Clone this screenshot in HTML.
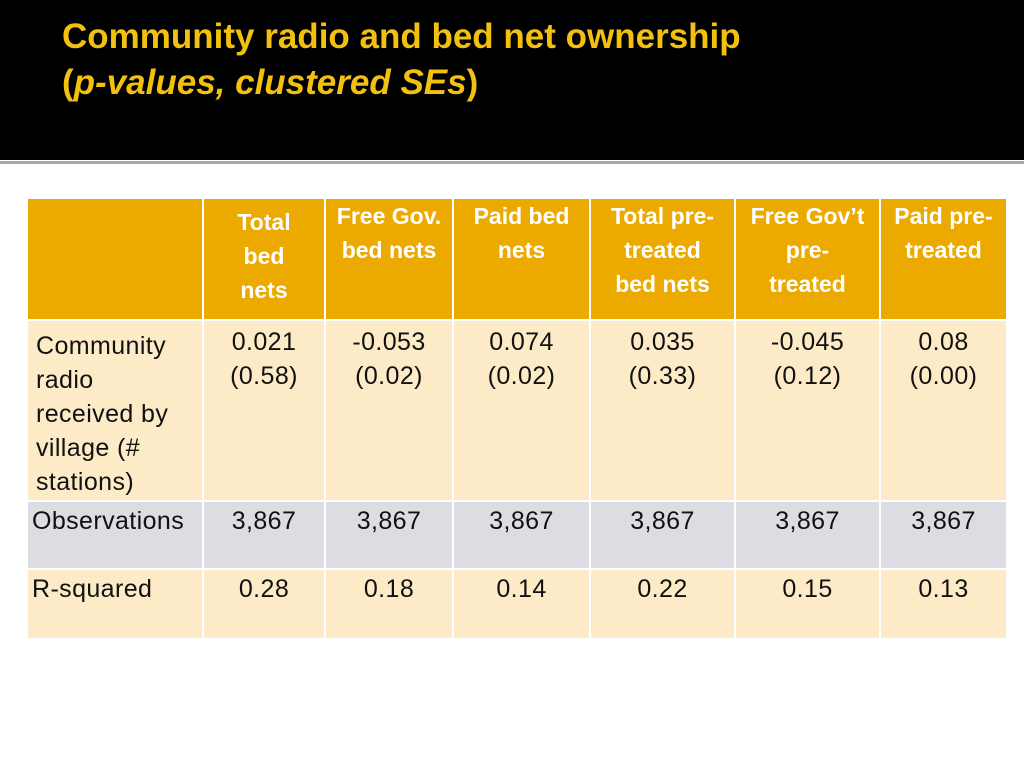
<!DOCTYPE html>
<html><head><meta charset="utf-8"><style>
body{margin:0;width:1024px;height:768px;background:#fff;position:relative;overflow:hidden;font-family:"Liberation Sans",sans-serif}
#hdr{position:absolute;left:0;top:0;width:1024px;height:160px;background:#000}
#line{position:absolute;left:0;top:161px;width:1024px;height:3px;background:#a8a8a8}
#title{position:absolute;left:62px;top:14px;color:#f2c10f;font-weight:bold;font-size:35px;line-height:46px;margin:0;white-space:nowrap}
table{position:absolute;left:26px;top:197px;border-collapse:collapse;table-layout:fixed}
td{border:2px solid #fff;padding:0;vertical-align:top;text-align:center;font-size:25px;color:#111;line-height:34px;letter-spacing:0.4px;white-space:nowrap}
tr.h td{background:#ecaa00;color:#fff;font-weight:bold;font-size:23px;height:114px;letter-spacing:0}
tr.r1 td{background:#fdebc8;height:171px;padding-top:4px}
tr.o td{background:#dcdde2;height:64px;padding-top:2px}
tr.r2 td{background:#fdebc8;height:66px;padding-top:2px}
td.lab{text-align:left;padding-left:8px}
</style></head><body>
<div id="hdr"></div>
<div id="line"></div>
<h1 id="title">Community radio and bed net ownership<br>(<i>p-values, clustered SEs</i>)</h1>
<table>
<colgroup><col style="width:176px"><col style="width:122px"><col style="width:128px"><col style="width:137px"><col style="width:145px"><col style="width:145px"><col style="width:127px"></colgroup>
<tr class="h"><td></td><td style="padding-top:6px">Total<br>bed<br>nets</td><td>Free Gov.<br>bed nets</td><td>Paid bed<br>nets</td><td>Total pre-<br>treated<br>bed nets</td><td>Free Gov’t<br>pre-<br>treated</td><td>Paid pre-<br>treated</td></tr>
<tr class="r1"><td class="lab" style="padding-top:8px">Community<br>radio<br>received by<br>village (#<br>stations)</td><td>0.021<br>(0.58)</td><td>-0.053<br>(0.02)</td><td>0.074<br>(0.02)</td><td>0.035<br>(0.33)</td><td>-0.045<br>(0.12)</td><td>0.08<br>(0.00)</td></tr>
<tr class="o"><td class="lab" style="padding-left:4px">Observations</td><td>3,867</td><td>3,867</td><td>3,867</td><td>3,867</td><td>3,867</td><td>3,867</td></tr>
<tr class="r2"><td class="lab" style="padding-left:4px">R-squared</td><td>0.28</td><td>0.18</td><td>0.14</td><td>0.22</td><td>0.15</td><td>0.13</td></tr>
</table>
</body></html>
